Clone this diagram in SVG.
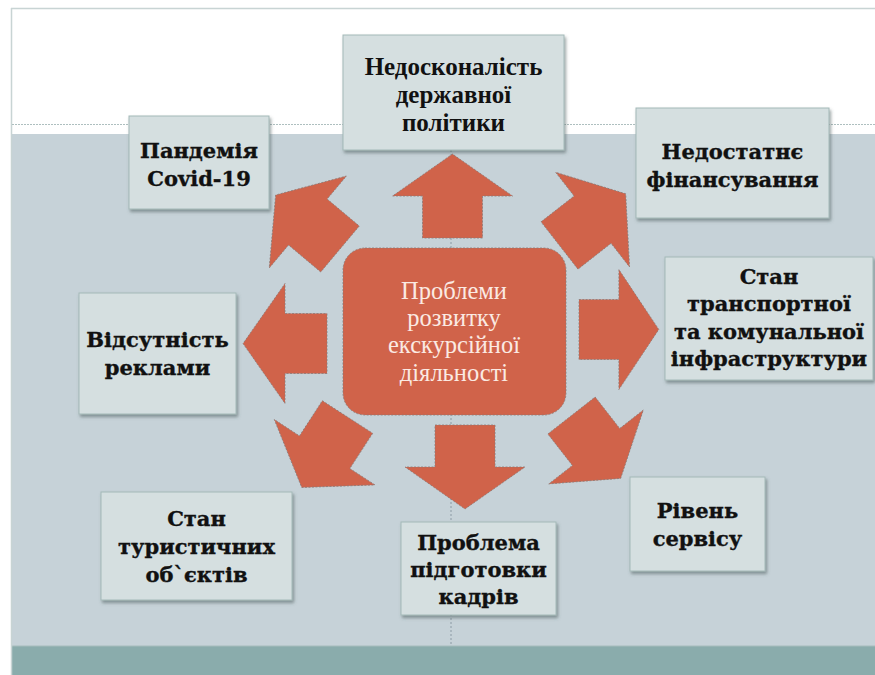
<svg xmlns="http://www.w3.org/2000/svg" width="875" height="675" viewBox="0 0 875 675">
<style>
.box{fill:#d5dfe0;stroke:#a3b9b8;stroke-width:1;filter:url(#sh)}
.bt{font-family:"DejaVu Serif",serif;font-weight:bold;font-size:21px;fill:#111;stroke:#111;stroke-width:0.35;text-anchor:middle}
.tt{font-family:"Liberation Serif",serif;font-weight:bold;font-size:25px;fill:#111;text-anchor:middle}
.ct{font-family:"Liberation Serif",serif;font-size:24.5px;fill:#fbeae3;text-anchor:middle}
.arr{fill:#d0634a;stroke:#8c7a76;stroke-width:0.8;stroke-dasharray:2 1.5}
</style>
<defs>
<filter id="sh" x="-10%" y="-10%" width="125%" height="130%">
<feDropShadow dx="1.5" dy="2.5" stdDeviation="1.5" flood-color="#4a5a5a" flood-opacity="0.55"/>
</filter>
<path id="ar" d="M0,-30 H42 V-60 L84,0 L42,60 V30 H0 Z"/>
</defs>
<g id="background">
<rect x="0" y="0" width="875" height="675" fill="#ffffff"/>
<rect x="12" y="134" width="863" height="512" fill="#c6d2d8"/>
<rect x="12" y="646" width="863" height="29" fill="#8aacac"/>
<line x1="12" y1="646" x2="875" y2="646" stroke="#a6bcbc" stroke-width="1"/>
<line x1="11.5" y1="8" x2="11.5" y2="675" stroke="#c8d4d4" stroke-width="1.5"/>
<line x1="11" y1="8.5" x2="875" y2="8.5" stroke="#c8d4d4" stroke-width="1.5"/>
<line x1="12" y1="124.5" x2="875" y2="124.5" stroke="#aebfbf" stroke-width="1" stroke-dasharray="2 1"/>
<line x1="451" y1="134" x2="451" y2="646" stroke="#7f8e99" stroke-width="0.8" stroke-dasharray="2 2"/>
</g>
<g id="connectors">
<use href="#ar" class="arr" transform="translate(452.5,238) rotate(-90)"/>
<use href="#ar" class="arr" transform="translate(465,425) rotate(90)"/>
<use href="#ar" class="arr" transform="translate(327,343.5) rotate(180)"/>
<use href="#ar" class="arr" transform="translate(579,329.5) scale(0.95,1)"/>
<use href="#ar" class="arr" transform="translate(340,249) rotate(-140)"/>
<use href="#ar" class="arr" transform="translate(559.5,245.5) rotate(-38)"/>
<use href="#ar" class="arr" transform="translate(347.5,417) rotate(123)"/>
<use href="#ar" class="arr" transform="translate(571.5,415.5) rotate(52) scale(0.95,1)"/>
</g>
<g id="center">
<rect x="343" y="248" width="223" height="167" rx="22" fill="#d0634a" stroke="#8c7a76" stroke-width="0.8" stroke-dasharray="2 1.5"/>
<text class="ct" x="454" y="299">Проблеми</text>
<text class="ct" x="454" y="326">розвитку</text>
<text class="ct" x="454" y="353">екскурсійної</text>
<text class="ct" x="454" y="381">діяльності</text>
</g>
<g id="node-top">
<rect class="box" x="343" y="35" width="221" height="115"/>
<text class="tt" x="453.5" y="75">Недосконалість</text>
<text class="tt" x="453.5" y="103">державної</text>
<text class="tt" x="453.5" y="131">політики</text>
</g>
<g id="node-pandemic">
<rect class="box" x="129" y="116" width="140" height="93"/>
<text class="bt" x="199" y="158">Пандемія</text>
<text class="bt" x="199" y="186">Covid-19</text>
</g>
<g id="node-finance">
<rect class="box" x="636" y="108" width="193" height="110"/>
<text class="bt" x="732.5" y="159">Недостатнє</text>
<text class="bt" x="732.5" y="187">фінансування</text>
</g>
<g id="node-transport">
<rect class="box" x="665" y="257" width="208" height="123"/>
<text class="bt" x="769" y="284">Стан</text>
<text class="bt" x="769" y="311">транспортної</text>
<text class="bt" x="769" y="339">та комунальної</text>
<text class="bt" x="769" y="366">інфраструктури</text>
</g>
<g id="node-ads">
<rect class="box" x="79" y="293" width="157" height="121"/>
<text class="bt" x="157.5" y="347">Відсутність</text>
<text class="bt" x="157.5" y="375">реклами</text>
</g>
<g id="node-tourist">
<rect class="box" x="101" y="492" width="191" height="108"/>
<text class="bt" x="196.5" y="526">Стан</text>
<text class="bt" x="196.5" y="554">туристичних</text>
<text class="bt" x="196.5" y="582">об`єктів</text>
</g>
<g id="node-staff">
<rect class="box" x="401" y="522" width="155" height="93"/>
<text class="bt" x="478.5" y="550">Проблема</text>
<text class="bt" x="478.5" y="577">підготовки</text>
<text class="bt" x="478.5" y="604">кадрів</text>
</g>
<g id="node-service">
<rect class="box" x="630" y="477" width="135" height="94"/>
<text class="bt" x="697.5" y="518">Рівень</text>
<text class="bt" x="697.5" y="546">сервісу</text>
</g>
</svg>
